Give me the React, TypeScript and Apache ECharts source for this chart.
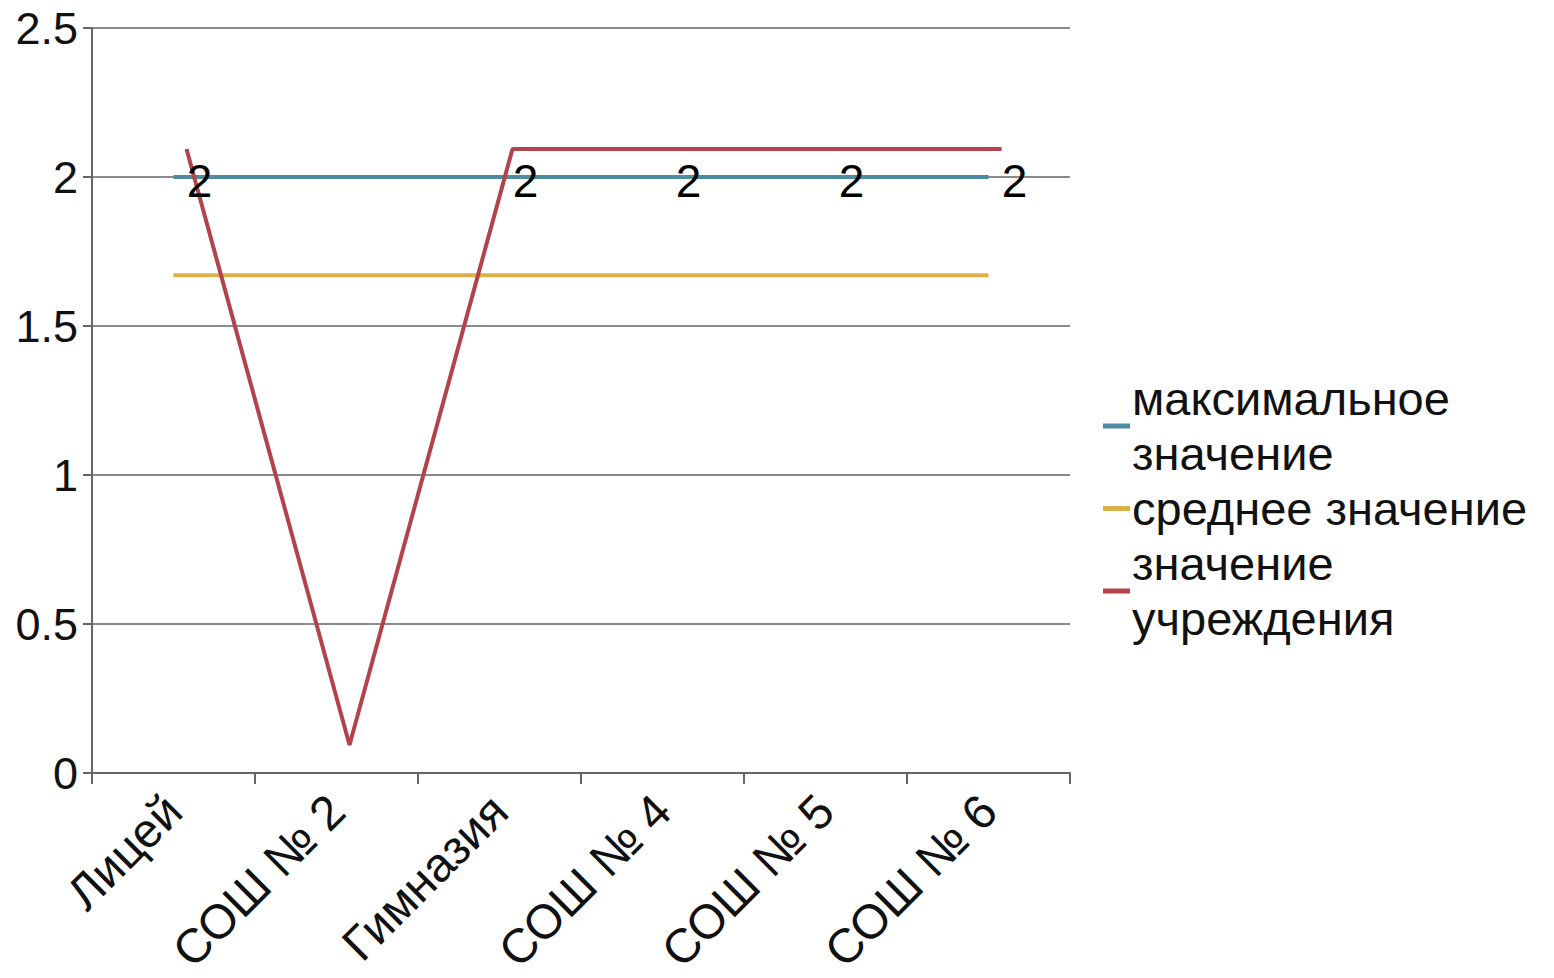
import React, { useEffect, useRef } from "react";
import * as echarts from "echarts";

const categories = ["Лицей", "СОШ № 2", "Гимназия", "СОШ № 4", "СОШ № 5", "СОШ № 6"];
const maxValues = [2, 2, 2, 2, 2, 2];
const avgValues = [1.67, 1.67, 1.67, 1.67, 1.67, 1.67];
const instValues = [2, 0, 2, 2, 2, 2];
const seriesNames = ["максимальное\nзначение", "среднее значение", "значение\nучреждения"];
const yTicks = { min: 0, max: 2.5, interval: 0.5 };

const FONT = "Liberation Sans, Arial, sans-serif";

export default function App() {
  const ref = useRef<HTMLDivElement>(null);
  useEffect(() => {
    if (!ref.current) return;
    const chart = echarts.init(ref.current, undefined, { renderer: "svg" });
    chart.setOption({
      animation: false,
      backgroundColor: "#ffffff",
      textStyle: { fontFamily: FONT },
      grid: [
        { left: 92, right: 484, top: 28, bottom: 205, containLabel: false },
        { left: 105, right: 471, top: 0, bottom: 233, containLabel: false },
      ],
      legend: {
        orient: "vertical",
        left: 1098,
        top: 366,
        itemGap: 0,
        itemWidth: 27,
        itemHeight: 5,
        icon: "rect",
        textStyle: { fontSize: 47, lineHeight: 55, color: "#111", fontFamily: FONT, padding: [0, 0, 0, -3] },
        data: seriesNames,
      },
      xAxis: [
        {
          type: "category",
          gridIndex: 0,
          data: categories,
          boundaryGap: true,
          axisLine: { lineStyle: { color: "#666", width: 2 } },
          axisTick: { show: true, length: 11, lineStyle: { color: "#666", width: 2 } },
          axisLabel: { rotate: 45, fontSize: 48, color: "#111", margin: 30, interval: 0, fontFamily: FONT },
        },
        {
          type: "category",
          gridIndex: 1,
          data: categories,
          boundaryGap: true,
          show: false,
        },
      ],
      yAxis: [
        {
          type: "value",
          gridIndex: 0,
          ...yTicks,
          axisLine: { show: true, lineStyle: { color: "#666", width: 2 } },
          axisTick: { show: true, length: 9, lineStyle: { color: "#666", width: 2 } },
          splitLine: { show: true, lineStyle: { color: "#8a8a8a", width: 2 } },
          axisLabel: { fontSize: 45, color: "#111", margin: 14, fontFamily: FONT },
        },
        {
          type: "value",
          gridIndex: 1,
          ...yTicks,
          show: false,
          splitLine: { show: false },
        },
      ],
      series: [
        {
          name: seriesNames[0],
          type: "line",
          xAxisIndex: 0,
          yAxisIndex: 0,
          data: maxValues,
          showSymbol: false,
          symbol: "none",
          color: "#4d8ba0",
          lineStyle: { width: 4, color: "#4d8ba0" },
        },
        {
          name: seriesNames[1],
          type: "line",
          xAxisIndex: 0,
          yAxisIndex: 0,
          data: avgValues,
          showSymbol: false,
          symbol: "none",
          color: "#dcb048",
          lineStyle: { width: 4, color: "#dcb048" },
        },
        {
          name: seriesNames[2],
          type: "line",
          xAxisIndex: 1,
          yAxisIndex: 1,
          data: instValues,
          symbol: "circle",
          symbolSize: 0.1,
          showSymbol: true,
          color: "#b3434b",
          lineStyle: { width: 4, color: "#b3434b" },
          label: {
            show: true,
            position: "inside",
            offset: [13, 32],
            fontSize: 46,
            color: "#000",
            fontFamily: FONT,
            formatter: (p: any) => (p.value === 0 ? "" : String(p.value)),
          },
        },
      ],
    });
    return () => chart.dispose();
  }, []);
  return (
    <div
      ref={ref}
      style={{ position: "fixed", left: 0, top: 0, width: 1554, height: 978, background: "#fff" }}
    />
  );
}
